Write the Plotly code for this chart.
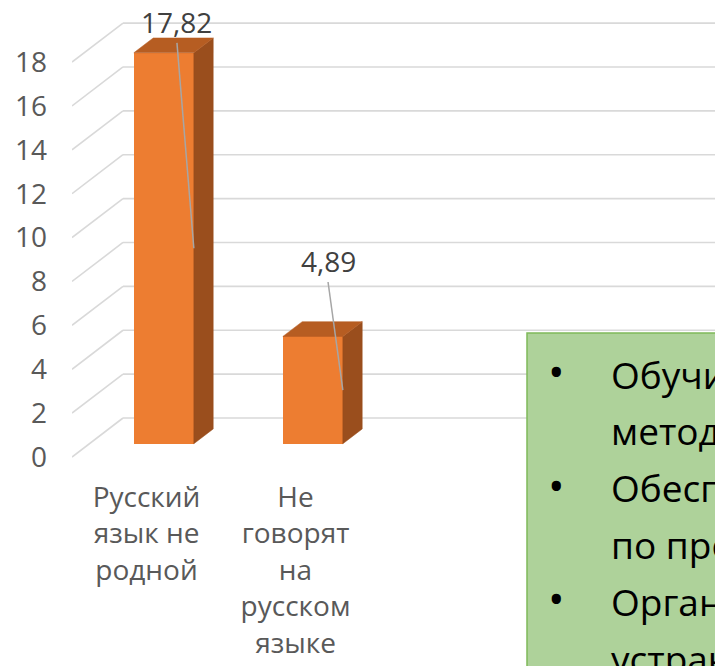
import plotly.graph_objects as go

# ---------------- data ----------------
categories = ["Русский язык не родной", "Не говорят на русском языке"]
category_ticktext = ["Русский<br>язык не<br>родной", "Не<br>говорят<br>на<br>русском<br>языке"]
values = [17.82, 4.89]
value_labels = ["17,82", "4,89"]
y_ticks = [0, 2, 4, 6, 8, 10, 12, 14, 16, 18]
box_lines = ["Обучить педагогов", "методам обучения", "Обеспечить пособиями",
             "по программе", "Организовать работу", "устранению пробелов"]
box_bullet_lines = [0, 2, 4]

# ---------------- layout constants ----------------
W, H = 715, 666
ML, MR, MT, MB = 72, 0, 0, 196
PW, PH = W - ML - MR, H - MT - MB
CAT_PX, CAT_STEP = 146.5, 149.0        # pixel of category 0, px per category
Y0_PX, Y_STEP = 457.0, 21.94           # pixel of value 0 (front floor), px per unit
X_RANGE = [(ML - CAT_PX) / CAT_STEP, (W - MR - CAT_PX) / CAT_STEP]
Y_RANGE = [(Y0_PX - (MT + PH)) / Y_STEP, (Y0_PX - MT) / Y_STEP]

DX = 51 / CAT_STEP      # full floor depth, x units
DY = 39 / Y_STEP        # full floor depth, y units
D_FRONT, D_BACK = 0.34, 0.72
BAR_W = 60 / CAT_STEP
LABEL_OFFSETS = [(0.088, 1.41), (0.102, 3.44)]
LEADER_GAP = 21 / Y_STEP

FRONT, TOP, SIDE = "#ED7D31", "#B65D22", "#9A4E1D"
GRID = "#D9D9D9"
FONT = "Open Sans"

fig = go.Figure()

# back wall gridlines + floor diagonals (below traces)
x_left = X_RANGE[0]
for v in y_ticks:
    fig.add_shape(type="line", xref="x", yref="y", layer="below",
                  x0=x_left, y0=v, x1=x_left + DX, y1=v + DY,
                  line=dict(color=GRID, width=1.6))
    fig.add_shape(type="line", xref="x", yref="y", layer="below",
                  x0=x_left + DX, y0=v + DY, x1=X_RANGE[1] + 1, y1=v + DY,
                  line=dict(color=GRID, width=1.6))

base = D_FRONT * DY
xc = [i + D_FRONT * DX for i in range(len(values))]
ddx = (D_BACK - D_FRONT) * DX
ddy = (D_BACK - D_FRONT) * DY

# front faces
fig.add_trace(go.Bar(x=xc, y=values, base=base, width=BAR_W,
                     marker=dict(color=FRONT, line=dict(width=0)),
                     hoverinfo="skip", showlegend=False))

# side and top faces
for i, v in enumerate(values):
    xl, xr = xc[i] - BAR_W / 2, xc[i] + BAR_W / 2
    top = base + v
    fig.add_trace(go.Scatter(
        x=[xr, xr + ddx, xr + ddx, xr, xr],
        y=[base, base + ddy, top + ddy, top, base],
        fill="toself", fillcolor=SIDE, mode="lines",
        line=dict(color=SIDE, width=0.5), hoverinfo="skip", showlegend=False))
    fig.add_trace(go.Scatter(
        x=[xl, xr, xr + ddx, xl + ddx, xl],
        y=[top, top, top + ddy, top + ddy, top],
        fill="toself", fillcolor=TOP, mode="lines",
        line=dict(color=TOP, width=0.5), hoverinfo="skip", showlegend=False))

# data labels with leader lines
for i, v in enumerate(values):
    du, dv = LABEL_OFFSETS[i]
    lx, ly = xc[i] + du, base + v + dv
    fig.add_trace(go.Scatter(
        x=[lx, xc[i] + BAR_W / 2], y=[ly - LEADER_GAP, base + v / 2],
        mode="lines", line=dict(color="#A6A6A6", width=1.5),
        hoverinfo="skip", showlegend=False))
    fig.add_annotation(x=lx, y=ly, xref="x", yref="y", text=value_labels[i],
                       showarrow=False, xanchor="center", yanchor="middle",
                       font=dict(family=FONT, size=28, color="#404040"))

# green text box (partially outside view)
def px_x(p):
    return (p - ML) / PW

def px_y(p):
    return (MT + PH - p) / PH

fig.add_shape(type="rect", xref="paper", yref="paper", layer="above",
              x0=px_x(527), x1=px_x(W + 40), y0=px_y(333), y1=px_y(H + 60),
              fillcolor="#AED29A", line=dict(color="#7FB95A", width=1.5))

LINE0, LINE_STEP = 374, 56.8
for k, txt in enumerate(box_lines):
    yc = LINE0 + k * LINE_STEP
    fig.add_annotation(x=px_x(609), y=px_y(yc), xref="paper", yref="paper",
                       text=txt, showarrow=False, xanchor="left", yanchor="middle",
                       font=dict(family=FONT, size=37, color="#000000"))
    if k in box_bullet_lines:
        fig.add_annotation(x=px_x(556), y=px_y(yc - 3), xref="paper", yref="paper",
                           text="•", showarrow=False, xanchor="center", yanchor="middle",
                           font=dict(family=FONT, size=44, color="#000000"))

fig.update_xaxes(range=X_RANGE, tickvals=list(range(len(categories))),
                 ticktext=category_ticktext, showgrid=False, zeroline=False,
                 showline=False, ticks="", ticklabelstandoff=8,
                 tickfont=dict(family=FONT, size=28, color="#595959"))
fig.update_yaxes(range=Y_RANGE, tickvals=y_ticks, ticktext=[str(t) for t in y_ticks],
                 showgrid=False, zeroline=False, showline=False, ticks="",
                 ticklabelstandoff=24,
                 tickfont=dict(family=FONT, size=28, color="#595959"))

fig.update_layout(width=W, height=H, margin=dict(l=ML, r=MR, t=MT, b=MB),
                  paper_bgcolor="white", plot_bgcolor="white",
                  showlegend=False, bargap=0)

fig.write_html("out.html", config={"displayModeBar": False},
               post_script="document.body.style.margin='0';document.body.style.overflow='hidden';")
